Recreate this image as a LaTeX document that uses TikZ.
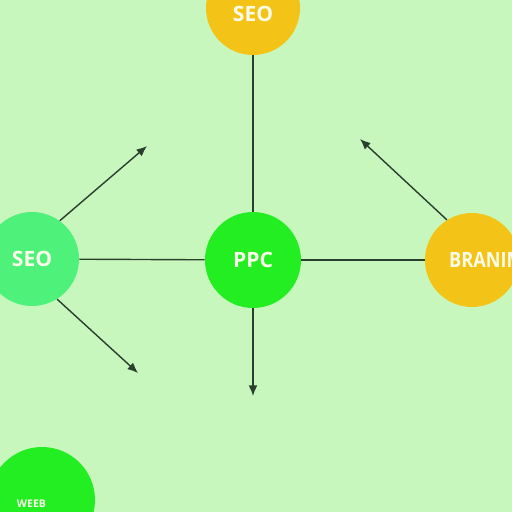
\documentclass[tikz,border=0pt]{standalone}
\usepackage{fontspec}
\setsansfont{Open Sans}
\usetikzlibrary{arrows.meta}
\definecolor{bgGreen}{HTML}{C8F7BE}
\definecolor{leafGreen}{HTML}{4EF27A}
\definecolor{limeGreen}{HTML}{22EE22}
\definecolor{sunYellow}{HTML}{F3C417}
\definecolor{inkGreen}{HTML}{2A3F2E}
\definecolor{creamText}{HTML}{FBFBEA}
\begin{document}
\begin{tikzpicture}[x=0.02cm, y=-0.02cm,
    every node/.style={align=center, font=\sffamily\bfseries},
    topic/.style={circle, minimum size=1.88cm, inner sep=0pt, text=creamText,
        font=\sffamily\bfseries\fontsize{12}{14}\selectfont},
    link/.style={inkGreen, line width=0.8pt},
    push/.style={link, -{Latex[length=6pt, width=5pt]}}]
    \useasboundingbox (0,0) rectangle (512,512);
    \fill[bgGreen] (0,0) rectangle (512,512);
    \clip (0,0) rectangle (512,512);

    \node[topic, fill=sunYellow] (seoTop) at (253,8) {\raisebox{-15pt}{SEO}};
    \node[topic, fill=limeGreen, minimum size=1.92cm] (ppc) at (253,260) {PPC};
    \node[topic, fill=leafGreen] (seoLeft) at (32,259) {SEO};
    \node[topic, fill=sunYellow] (brand) at (472,260)
        {\makebox[0pt][l]{\hspace{-13pt}\scalebox{0.86}[1]{BRANIM}}};
    \node[topic, fill=limeGreen, minimum size=2.12cm,
        font=\sffamily\bfseries\fontsize{6}{7}\selectfont] (web) at (42,500)
        {\raisebox{-9pt}{WEEB}\hspace{12pt}};

    \coordinate (upLeft) at (147,146);
    \coordinate (downLeft) at (138,373);
    \coordinate (upRight) at (360,139);
    \coordinate (downMid) at (253,396);

    \draw[link] (seoTop) -- (ppc);
    \draw[link] (seoLeft) -- (ppc);
    \draw[link] (ppc) -- (brand);
    \draw[push] (seoLeft.54) -- (upLeft);
    \draw[push] (seoLeft.-58) -- (downLeft);
    \draw[push] (brand.122) -- (upRight);
    \draw[push] (ppc) -- (downMid);
\end{tikzpicture}
\end{document}
